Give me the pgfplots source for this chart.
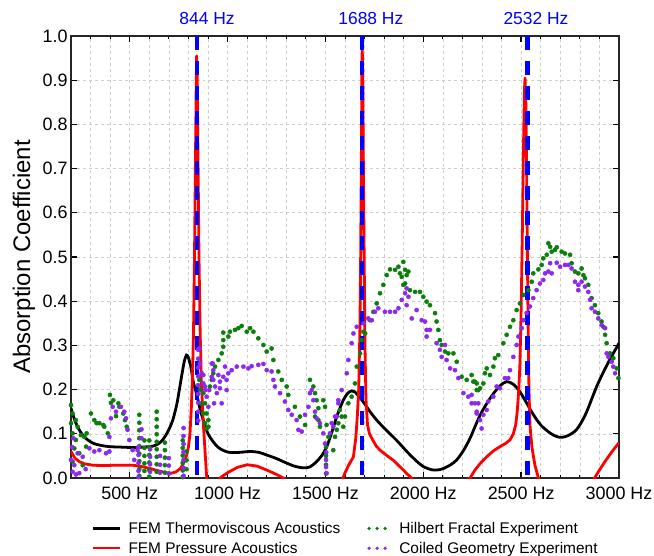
\documentclass[border=0pt]{standalone}
\usepackage{fontspec}
\setmainfont{Liberation Sans}
\usepackage{pgfplots}
\pgfplotsset{compat=1.18}
\definecolor{hilbert}{RGB}{10,128,10}
\definecolor{coiled}{RGB}{140,40,240}
\definecolor{gridgray}{RGB}{205,205,205}

\begin{document}
\begin{tikzpicture}
\begin{axis}[
  scale only axis, width=548bp, height=442bp,
  xmin=200, xmax=3000, ymin=0, ymax=1,
  xtick={500,1000,1500,2000,2500,3000},
  xticklabels={500 Hz,1000 Hz,1500 Hz,2000 Hz,2500 Hz,3000 Hz},
  minor xtick={200,300,...,3000},
  ytick={0,0.1,0.2,0.3,0.4,0.5,0.6,0.7,0.8,0.9,1},
  yticklabel style={/pgf/number format/.cd, fixed, fixed zerofill, precision=1},
  /pgf/number format/assume math mode=true,
  ticklabel style={font=\fontsize{18}{21}\selectfont},
  xticklabel style={yshift=-5bp},
  ylabel={Absorption Coefficient},
  ylabel style={font=\fontsize{24}{29}\selectfont, at={(axis description cs:-0.059,0.5)}, anchor=south},
  tick pos=both, tick align=inside,
  major tick length=6bp, minor tick length=3.5bp,
  every major tick/.append style={line width=1.3bp, black},
  every minor tick/.append style={line width=0.8bp, black},
  axis line style={line width=1.3bp, black!85},
  grid=both,
  major grid style={gridgray, dashed, line width=0.6bp},
  minor grid style={gridgray, dashed, line width=0.6bp},
  legend columns=2,
  legend cell align=left,
  legend style={draw=none, fill=none, font=\fontsize{15.5}{18}\selectfont,
    at={(0.038,-0.095)}, anchor=north west, inner sep=0pt,
    /tikz/every even column/.append style={column sep=25bp}, row sep=3bp},
]
\addlegendimage{legend image code/.code={\draw[black, line width=2.6bp] (0bp,0bp) -- (27bp,0bp); \path (33bp,0bp);}}
\addlegendentry{FEM Thermoviscous Acoustics}
\addlegendimage{legend image code/.code={\fill[hilbert] (2bp,0bp) circle (1.5bp) (10bp,0bp) circle (1.5bp) (18bp,0bp) circle (1.5bp); \path (30bp,0bp);}}
\addlegendentry{Hilbert Fractal Experiment}
\addlegendimage{legend image code/.code={\draw[red, line width=2.6bp] (0bp,0bp) -- (27bp,0bp); \path (33bp,0bp);}}
\addlegendentry{FEM Pressure Acoustics}
\addlegendimage{legend image code/.code={\fill[coiled] (2bp,0bp) circle (1.5bp) (10bp,0bp) circle (1.5bp) (18bp,0bp) circle (1.5bp); \path (30bp,0bp);}}
\addlegendentry{Coiled Geometry Experiment}

% Hilbert fractal experiment
\addplot[forget plot, only marks, mark=*, mark size=2.1bp, hilbert] coordinates {
(200,0.165) (208,0.146) (200,0.124) (225,0.131) (234,0.116) (208,0.101) (251,0.097)
(225,0.086) (268,0.093) (277,0.071) (217,0.067) (242,0.056) (208,0.037) (260,0.029)
(280,0.101) (302,0.146) (319,0.131) (331,0.124) (345,0.124) (365,0.12) (370,0.116)
(388,0.101) (399,0.188) (404,0.170) (416,0.176) (430,0.140) (442,0.169) (447,0.161)
(467,0.146) (476,0.131) (485,0.116)
(549,0.143) (549,0.125) (549,0.108) (549,0.09) (549,0.072) (549,0.055) (549,0.038) (549,0.02) (549,0.005)
(575,0.085) (575,0.068) (575,0.05) (575,0.033) (575,0.016)
(600,0.085) (600,0.07) (600,0.052) (600,0.035) (600,0.018) (600,0.003)
(638,0.15) (638,0.133) (638,0.116) (638,0.099) (638,0.082) (638,0.065) (638,0.048) (638,0.031) (638,0.014)
(680,0.08) (680,0.063) (680,0.046) (680,0.029) (680,0.012)
(771,0.085) (771,0.068) (771,0.051) (771,0.034) (771,0.017) (771,0.002)
(790,0.06) (790,0.04) (790,0.02)
(856,0.222) (859,0.2) (868,0.169) (876,0.146) (885,0.124) (893,0.112)
(876,0.192) (885,0.169) (893,0.146) (902,0.131) (902,0.116) (910,0.207) (919,0.222)
(927,0.237) (936,0.252) (953,0.267) (970,0.282) (978,0.297) (978,0.312) (978,0.329)
(1004,0.320) (1012,0.331) (1038,0.335) (1055,0.339) (1072,0.344) (1098,0.331) (1115,0.339)
(1132,0.331) (1157,0.316) (1183,0.301) (1200,0.286) (1225,0.293) (1234,0.267) (1259,0.241)
(1277,0.222) (1302,0.207) (1310,0.188) (1344,0.161) (1370,0.139) (1396,0.120) (1421,0.222)
(1438,0.207) (1447,0.192) (1455,0.176) (1464,0.158) (1447,0.139) (1464,0.131) (1472,0.116)
(1489,0.176) (1498,0.161) (1506,0.120) (1515,0.093) (1503,0.07) (1503,0.05) (1503,0.03) (1503,0.01)
(1540,0.063) (1549,0.093) (1558,0.109) (1566,0.124) (1583,0.139) (1600,0.139) (1591,0.116)
(1574,0.154) (1617,0.169) (1634,0.184) (1651,0.214) (1660,0.252) (1677,0.282) (1685,0.312)
(1694,0.331) (1703,0.327) (1728,0.357) (1745,0.376) (1762,0.395) (1779,0.418) (1796,0.437)
(1813,0.459) (1830,0.472) (1856,0.471) (1873,0.478) (1881,0.463) (1898,0.489) (1890,0.455)
(1907,0.471) (1915,0.459) (1924,0.467) (1907,0.440) (1898,0.437) (1932,0.425) (1958,0.421)
(1983,0.421) (2000,0.410) (2017,0.399) (2034,0.391) (2060,0.373) (2068,0.354) (2077,0.335)
(2085,0.312) (2094,0.301) (2111,0.286) (2128,0.282) (2154,0.282) (2171,0.263) (2196,0.229)
(2222,0.222) (2247,0.233) (2256,0.218) (2273,0.214) (2281,0.199)
(2264,0.218) (2273,0.199) (2290,0.203) (2307,0.214) (2315,0.237) (2324,0.248) (2341,0.233)
(2358,0.252) (2366,0.271) (2383,0.278) (2409,0.305) (2426,0.324) (2443,0.342) (2460,0.357)
(2477,0.380) (2494,0.395) (2511,0.414) (2537,0.425) (2554,0.444) (2562,0.463) (2588,0.472)
(2605,0.482) (2613,0.497) (2631,0.505) (2639,0.531) (2648,0.523) (2656,0.512) (2673,0.516)
(2682,0.522) (2707,0.512) (2724,0.508) (2750,0.505) (2758,0.486) (2775,0.467) (2792,0.463)
(2809,0.474) (2818,0.459) (2826,0.452) (2843,0.437) (2860,0.407) (2877,0.391) (2894,0.373)
(2911,0.354) (2920,0.342) (2929,0.324) (2937,0.305) (2954,0.282) (2971,0.271) (2988,0.248)
(2997,0.226)
};

% Coiled geometry experiment
\addplot[forget plot, only marks, mark=*, mark size=2.1bp, coiled] coordinates {
(200,0.041) (217,0.029) (208,0.014) (242,0.011) (234,0.056) (260,0.048) (294,0.067)
(319,0.060) (345,0.063) (379,0.056) (396,0.060) (396,0.093) (404,0.135) (413,0.161)
(430,0.150) (455,0.161) (472,0.150) (481,0.135) (489,0.109) (498,0.086) (515,0.063)
(523,0.041) (540,0.063) (205,0.07) (212,0.09) (225,0.008) (275,0.02)
(545,0.07) (545,0.052) (545,0.034) (545,0.016) (545,0.002) (560,0.11) (560,0.09)
(604,0.065) (604,0.048) (604,0.031) (604,0.014)
(655,0.05) (655,0.03) (655,0.012) (700,0.045) (700,0.028) (700,0.01)
(775,0.113) (775,0.095) (775,0.077) (775,0.059) (775,0.041) (775,0.023) (775,0.005)
(850,0.29) (850,0.27) (850,0.25) (850,0.23) (850,0.21) (850,0.19) (850,0.17) (850,0.15) (850,0.13)
(856,0.293) (859,0.259) (868,0.237) (876,0.214) (885,0.199) (893,0.184) (906,0.199)
(919,0.229) (924,0.259) (931,0.169) (876,0.233) (885,0.207) (902,0.161) (919,0.259)
(927,0.244) (927,0.222) (936,0.207) (945,0.192) (953,0.233) (961,0.218) (961,0.203)
(970,0.169) (978,0.229) (987,0.252) (995,0.222) (995,0.199) (1004,0.237) (1021,0.244)
(1047,0.252) (1081,0.252) (1106,0.248) (1123,0.253) (1157,0.256) (1183,0.258) (1200,0.244)
(1225,0.241) (1234,0.222) (1242,0.207) (1268,0.192) (1293,0.173) (1310,0.154) (1328,0.143)
(1353,0.131) (1362,0.109) (1379,0.105) (1396,0.143) (1413,0.161) (1421,0.192) (1430,0.199)
(1438,0.176) (1447,0.150) (1455,0.135) (1472,0.124) (1489,0.101) (1498,0.078) (1503,0.041)
(1506,0.011) (1503,0.025) (1504,0.058) (1523,0.101) (1540,0.116) (1558,0.139) (1566,0.176)
(1532,0.124) (1549,0.139) (1566,0.169) (1583,0.199) (1609,0.237) (1617,0.267) (1634,0.305)
(1643,0.327) (1660,0.342) (1694,0.35) (1719,0.361) (1737,0.357) (1753,0.376) (1770,0.384)
(1804,0.376) (1830,0.376) (1856,0.376) (1873,0.384) (1890,0.403) (1907,0.418) (1915,0.429)
(1924,0.410) (1915,0.391) (1941,0.361) (1966,0.380) (1992,0.357) (2009,0.354) (2017,0.335)
(2034,0.335) (2017,0.320) (2068,0.305) (2085,0.290) (2111,0.301) (2094,0.274) (2119,0.267)
(2137,0.248) (2162,0.244) (2179,0.226) (2205,0.192) (2230,0.184) (2247,0.169) (2273,0.150)
(2281,0.169)
(2247,0.188) (2264,0.169) (2273,0.146) (2290,0.131) (2298,0.112) (2307,0.143) (2324,0.154)
(2332,0.173) (2358,0.184) (2375,0.207) (2392,0.203) (2417,0.226) (2434,0.226) (2443,0.244)
(2460,0.274) (2477,0.301) (2486,0.320) (2503,0.339) (2511,0.357) (2528,0.373) (2545,0.388)
(2562,0.407) (2579,0.425) (2596,0.440) (2613,0.448) (2622,0.463) (2639,0.467) (2648,0.486)
(2656,0.463) (2682,0.487) (2699,0.478) (2724,0.482) (2741,0.482) (2758,0.474) (2775,0.444)
(2792,0.437) (2792,0.425) (2809,0.444) (2826,0.433) (2843,0.421) (2852,0.403) (2860,0.384)
(2877,0.376) (2894,0.361) (2911,0.346) (2929,0.339) (2937,0.282) (2946,0.274) (2963,0.263)
(2971,0.252) (2980,0.237)
};

% FEM thermoviscous acoustics
\addplot[forget plot, black, line width=2.8bp, smooth, tension=0.5] coordinates {
(200,0.158) (220,0.13) (242,0.109) (270,0.092) (311,0.079) (350,0.074) (394,0.071)
(450,0.07) (515,0.069) (570,0.07) (617,0.072) (645,0.077) (668,0.086) (695,0.105)
(720,0.131) (742,0.17) (762,0.222) (778,0.262) (790,0.278) (800,0.272) (813,0.25)
(826,0.215) (842,0.19) (860,0.155) (880,0.125) (900,0.1) (925,0.083) (950,0.07)
(980,0.062) (1010,0.058) (1060,0.058) (1115,0.06) (1160,0.058) (1200,0.052) (1250,0.044)
(1285,0.037) (1340,0.027) (1387,0.023) (1420,0.025) (1450,0.035) (1480,0.05) (1506,0.07)
(1530,0.1) (1558,0.139) (1590,0.175) (1615,0.192) (1634,0.197) (1650,0.195) (1680,0.18)
(1700,0.168) (1728,0.15) (1760,0.132) (1800,0.113) (1864,0.085) (1920,0.058) (1966,0.038)
(2000,0.026) (2040,0.019) (2069,0.018) (2100,0.021) (2140,0.03) (2171,0.041) (2205,0.062)
(2239,0.09) (2290,0.142) (2341,0.18) (2390,0.208) (2426,0.218) (2460,0.212) (2494,0.195)
(2530,0.168) (2560,0.145) (2600,0.12) (2647,0.102) (2680,0.094) (2707,0.092) (2740,0.096)
(2784,0.11) (2830,0.145) (2886,0.207) (2940,0.257) (3000,0.305)
};

% FEM pressure acoustics
\addplot[forget plot, red, line width=2.8bp, line join=round] coordinates {
(200,0.06) (220,0.045) (242,0.037) (270,0.032) (311,0.029) (360,0.028) (430,0.029)
(515,0.029) (560,0.026) (600,0.022) (640,0.017) (685,0.012) (715,0.011) (737,0.014)
(760,0.022) (779,0.037) (790,0.05) (800,0.07) (808,0.1) (815,0.16) (820,0.22) (826,0.33)
(831,0.5) (836,0.72) (840,0.9) (842,0.955) (845,0.9) (849,0.72) (854,0.5) (860,0.33)
(866,0.22) (872,0.16) (878,0.11) (885,0.06) (892,0.01) (900,-0.03) (920,-0.05)
(940,-0.02) (961,0.0) (1000,0.012) (1050,0.024) (1100,0.03) (1150,0.027) (1200,0.018)
(1250,0.008) (1285,0.0) (1320,-0.015) (1400,-0.04) (1500,-0.04) (1560,-0.02) (1590,0.0)
(1600,0.012) (1620,0.03) (1643,0.048) (1655,0.09) (1663,0.14) (1670,0.2) (1676,0.33)
(1680,0.5) (1684,0.75) (1686,0.9) (1688,0.976) (1691,0.9) (1694,0.7) (1698,0.5)
(1702,0.3) (1707,0.18) (1715,0.12) (1725,0.1) (1737,0.09) (1760,0.072) (1779,0.063)
(1810,0.052) (1847,0.04) (1875,0.028) (1898,0.018) (1920,0.008) (1941,0.0) (1960,-0.02)
(2050,-0.05) (2150,-0.04) (2210,-0.015) (2239,0.0) (2264,0.018) (2295,0.035) (2324,0.048)
(2360,0.062) (2392,0.071) (2420,0.078) (2443,0.086) (2460,0.1) (2472,0.12) (2480,0.15)
(2488,0.2) (2494,0.26) (2500,0.38) (2506,0.55) (2512,0.75) (2517,0.88) (2520,0.905)
(2524,0.85) (2528,0.7) (2532,0.5) (2536,0.33) (2540,0.2) (2545,0.12) (2555,0.07)
(2570,0.03) (2588,0.0) (2600,-0.02) (2700,-0.05) (2800,-0.04) (2850,-0.015) (2875,0.0)
(2900,0.018) (2934,0.041) (2965,0.06) (3000,0.08)
};

% resonance markers
\addplot[forget plot, blue, line width=4.5bp, dash pattern=on 14bp off 11bp] coordinates {(844,1) (844,0)};
\addplot[forget plot, blue, line width=4.5bp, dash pattern=on 14bp off 11bp] coordinates {(1688,1) (1688,0)};
\addplot[forget plot, blue, line width=4.5bp, dash pattern=on 14bp off 11bp] coordinates {(2532,1) (2532,0)};

\coordinate (l1) at (axis cs:895,1);
\coordinate (l2) at (axis cs:1732,1);
\coordinate (l3) at (axis cs:2576,1);
\end{axis}
\node[font=\fontsize{17.5}{20}\selectfont, text=blue, anchor=base, yshift=11bp] at (l1) {844 Hz};
\node[font=\fontsize{17.5}{20}\selectfont, text=blue, anchor=base, yshift=11bp] at (l2) {1688 Hz};
\node[font=\fontsize{17.5}{20}\selectfont, text=blue, anchor=base, yshift=11bp] at (l3) {2532 Hz};
\pgfresetboundingbox
\path[use as bounding box] ([xshift=-71bp,yshift=-78bp]current axis.south west) rectangle ([xshift=35bp,yshift=36bp]current axis.north east);
\end{tikzpicture}
\end{document}
